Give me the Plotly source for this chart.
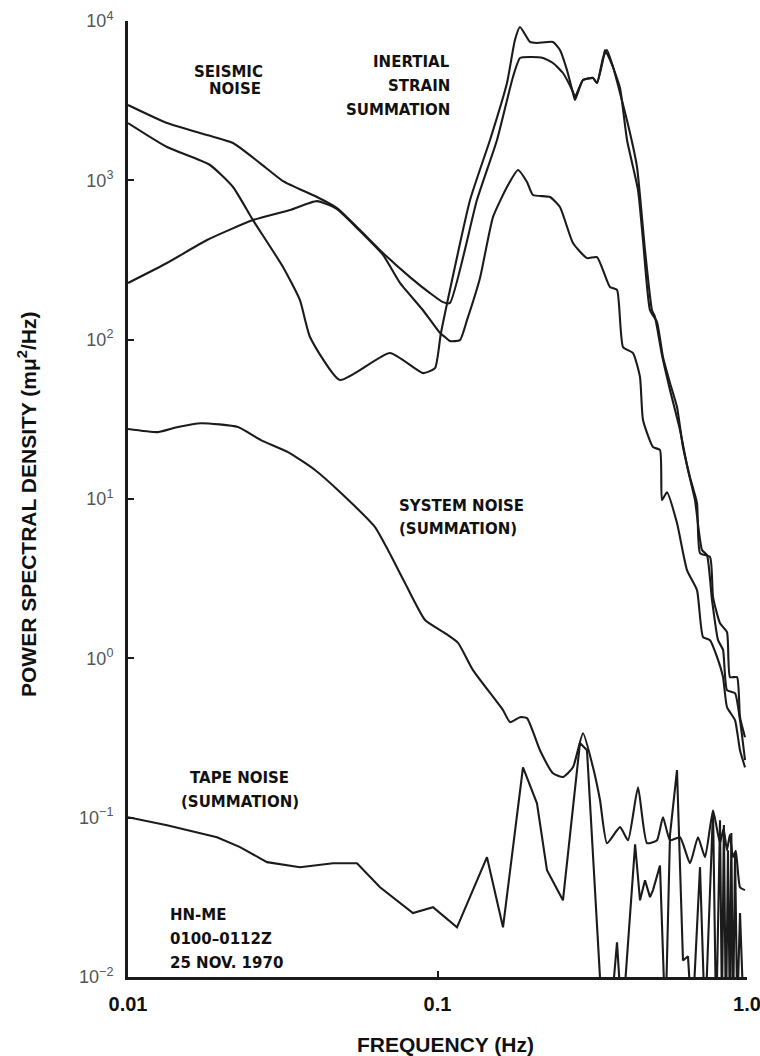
import plotly.graph_objects as go

# ---------------- data (frequency in Hz, PSD in mμ²/Hz) ----------------
# seismic noise curve starting near 3000 (upper at low frequency, plateau ~5500 at 0.2 Hz)
upper_f = [0.0100, 0.01337, 0.0180, 0.02184, 0.02669, 0.03168, 0.04079, 0.04735, 0.05618, 0.06667,
           0.08148, 0.09458, 0.1042, 0.1097, 0.1341, 0.1557, 0.1753, 0.1847, 0.1990, 0.2192,
           0.2361, 0.2543, 0.2740, 0.2781, 0.2952, 0.3180, 0.3276, 0.3425, 0.3529, 0.3690,
           0.3888, 0.4096, 0.4445, 0.4613, 0.4860, 0.5119, 0.5352, 0.5639, 0.5940, 0.6211,
           0.6543, 0.6893, 0.7049, 0.7595, 0.7767, 0.8181, 0.8617, 0.8813, 0.9284, 0.9493, 0.9852]
upper_p = [2970, 2289, 1924, 1715, 1284, 990, 786, 670, 488, 350,
           247, 196, 172, 170, 752, 1791, 4452, 5857, 5943, 5857,
           5449, 4717, 3584, 3333, 4262, 4388, 4082, 5857, 6577, 5143,
           3796, 1791, 869, 422, 153, 129, 77.8, 53.4, 37.8, 21.2,
           13.7, 9.43, 4.58, 4.32, 2.42, 1.66, 1.46, 0.762, 0.762, 0.427, 0.320]

# seismic noise curve starting near 2300 (dips to ~55, highest peak ~9000)
middle_f = [0.0100, 0.01337, 0.0184, 0.02184, 0.02534, 0.03168, 0.03594, 0.03873, 0.04842, 0.07023,
            0.08979, 0.09815, 0.1026, 0.1274, 0.1478, 0.1677, 0.1779, 0.1847, 0.1990, 0.2096,
            0.2361, 0.2487, 0.2620, 0.2740, 0.2781, 0.2952, 0.3180, 0.3276, 0.3425, 0.3477,
            0.3690, 0.3888, 0.4188, 0.4412, 0.4682, 0.4932, 0.5043, 0.5313, 0.5639, 0.6074,
            0.6446, 0.6791, 0.7155, 0.7427, 0.7709, 0.8061, 0.8366, 0.8617, 0.9146, 0.9493, 0.9852]
middle_p = [2289, 1618, 1248, 908, 563, 286, 177, 104, 55.8, 82.4,
            61.7, 66.3, 110, 752, 1791, 4082, 7600, 9170, 7385, 7278,
            7385, 6577, 4925, 3532, 3193, 4262, 4388, 4082, 5690, 6577,
            5143, 3532, 1981, 1212, 365, 153, 139, 80.0, 48.3, 27.1,
            15.2, 9.84, 4.78, 4.44, 2.32, 1.30, 1.13, 0.632, 0.605, 0.409, 0.230]

# seismic noise curve starting near 230 (peak ~1100 at 0.18 Hz)
lower_f = [0.0100, 0.01337, 0.0180, 0.02534, 0.03338, 0.04079, 0.04735, 0.05618, 0.06667, 0.07564,
           0.08979, 0.1019, 0.1057, 0.1097, 0.1182, 0.1246, 0.1372, 0.1511, 0.1677, 0.1820,
           0.1946, 0.2035, 0.2309, 0.2487, 0.2740, 0.3041, 0.3276, 0.3608, 0.3802, 0.3976,
           0.4283, 0.4511, 0.4613, 0.4969, 0.5234, 0.5313, 0.5514, 0.5940, 0.6398, 0.6893,
           0.7209, 0.7595, 0.8001, 0.8366, 0.8617, 0.9146, 0.9493, 0.9852]
lower_p = [227, 303, 422, 563, 651, 740, 660, 480, 340, 227,
           153, 110, 104, 98.0, 99.4, 133, 244, 588, 908, 1161,
           976, 809, 786, 680, 404, 325, 330, 214, 205, 89.8,
           82.4, 58.2, 31.3, 21.2, 20.3, 9.84, 11.0, 7.06, 3.58, 2.68,
           1.36, 1.30, 1.02, 0.762, 0.494, 0.409, 0.265, 0.207]

# system noise (summation)
system_f = [0.0100, 0.0125, 0.0145, 0.01722, 0.02266, 0.02689, 0.03289, 0.04019, 0.04878, 0.06282,
            0.06919, 0.07852, 0.09113, 0.1057, 0.1165, 0.1302, 0.1628, 0.1715, 0.1847, 0.1946,
            0.2143, 0.2361, 0.2543, 0.2740, 0.2952, 0.3180, 0.3350, 0.3529, 0.3888, 0.4127,
            0.4445, 0.4752, 0.5119, 0.5352, 0.5639, 0.6074, 0.6543, 0.6945, 0.7317, 0.7767,
            0.8181, 0.8400, 0.8617, 0.8800, 0.9012, 0.9200, 0.9493, 0.9852]
system_p = [27.5, 26.3, 28.3, 29.9, 28.3, 23.4, 19.7, 15.2, 10.9, 6.66,
            4.78, 2.97, 1.74, 1.44, 1.25, 0.843, 0.473, 0.398, 0.427, 0.421,
            0.265, 0.190, 0.180, 0.207, 0.339, 0.207, 0.129, 0.0692, 0.0872, 0.0722,
            0.155, 0.0692, 0.0722, 0.1007, 0.0722, 0.0754, 0.0518, 0.0754, 0.0565, 0.111,
            0.0692, 0.085, 0.0625, 0.078, 0.0565, 0.062, 0.0366, 0.0351]

# tape noise (summation)
tape_f = [0.0100, 0.01337, 0.01939, 0.02301, 0.02812, 0.03594, 0.04597, 0.05494, 0.0652, 0.08332,
          0.09672, 0.1156, 0.1445, 0.1628, 0.1889, 0.2096, 0.2258, 0.2543, 0.2886, 0.3041,
          0.3400, 0.3608, 0.3802, 0.3950, 0.4350, 0.4511, 0.4682, 0.4860, 0.4969, 0.5234,
          0.5450, 0.5639, 0.5940, 0.6211, 0.6446, 0.6650, 0.7049, 0.7317, 0.7767, 0.7950,
          0.8181, 0.8300, 0.8420, 0.8550, 0.8681, 0.8800, 0.8900, 0.9012, 0.9150, 0.9300,
          0.9493, 0.9780]
tape_p = [0.1007, 0.0897, 0.0754, 0.0653, 0.0526, 0.0489, 0.0518, 0.0518, 0.0366, 0.0252,
          0.0274, 0.0205, 0.0565, 0.0205, 0.207, 0.123, 0.0468, 0.0303, 0.294, 0.265,
          0.006, 0.005, 0.0165, 0.005, 0.068, 0.0303, 0.0405, 0.0317, 0.0351, 0.050,
          0.005, 0.078, 0.199, 0.0127, 0.0135, 0.005, 0.0489, 0.005, 0.111, 0.005,
          0.0964, 0.006, 0.090, 0.005, 0.0625, 0.006, 0.080, 0.005, 0.060, 0.006,
          0.0252, 0.005]

x_tick_vals = [0.01, 0.1, 1.0]
x_tick_text = ["0.01", "0.1", "1.0"]
y_tick_vals = [1e-2, 1e-1, 1e0, 1e1, 1e2, 1e3, 1e4]
y_tick_text = ["10<sup>\u22122</sup>", "10<sup>\u22121</sup>", "10<sup>0</sup>", "10<sup>1</sup>",
               "10<sup>2</sup>", "10<sup>3</sup>", "10<sup>4</sup>"]

# ---------------- figure ----------------
W, H = 760, 1056
ML, MR, MT, MB = 128, 13, 21, 79
PW, PH = W - ML - MR, H - MT - MB

INK = "#1b1b1b"
fig = go.Figure()
for fx, fy, shape in [(upper_f, upper_p, "spline"), (middle_f, middle_p, "spline"),
                      (lower_f, lower_p, "spline"), (system_f, system_p, "spline"),
                      (tape_f, tape_p, "linear")]:
    fig.add_trace(go.Scatter(x=fx, y=fy, mode="lines",
                             line=dict(color=INK, width=2.1, shape=shape,
                                       smoothing=0.5 if shape == "spline" else None),
                             hoverinfo="skip"))

axis_common = dict(type="log", showline=True, linecolor=INK, linewidth=3, showgrid=False,
                   zeroline=False, ticks="inside", ticklen=6, tickwidth=2, tickcolor=INK,
                   mirror=False, automargin=False, ticklabeloverflow="allow")
fig.update_xaxes(range=[-2, 0], tickvals=x_tick_vals, ticktext=x_tick_text,
                 tickfont=dict(family="Liberation Sans", size=20, color="#111", weight="bold"),
                 ticklabelstandoff=7, **axis_common)
fig.update_yaxes(range=[-2, 4], tickvals=y_tick_vals, ticktext=y_tick_text,
                 tickfont=dict(family="Liberation Sans", size=18, color="#555"),
                 ticklabelstandoff=8, **axis_common)


def px_to_paper(px, py):
    return (px - ML) / PW, 1 - (py - MT) / PH


LAB = dict(family="DejaVu Sans", size=15, color="#111", weight="bold")
labels = [
    ("SEISMIC", 265, 72, "right"), ("NOISE", 263, 89, "right"),
    ("INERTIAL", 452, 62, "right"), ("STRAIN", 452, 86, "right"), ("SUMMATION", 452, 110, "right"),
    ("SYSTEM NOISE", 397, 506, "left"), ("(SUMMATION)", 397, 529, "left"),
    ("TAPE NOISE", 239, 778, "center"), ("(SUMMATION)", 240, 802, "center"),
    ("HN-ME", 168, 915, "left"), ("0100\u20130112Z", 168, 939, "left"), ("25 NOV. 1970", 168, 963, "left"),
]
for text, lx, ly, anchor in labels:
    ax, ay = px_to_paper(lx, ly)
    fig.add_annotation(text=text, x=ax, y=ay, xref="paper", yref="paper", xanchor=anchor,
                       yanchor="middle", showarrow=False, font=LAB)

ax, ay = px_to_paper(445, 1044)
fig.add_annotation(text="FREQUENCY (Hz)", x=ax, y=ay, xref="paper", yref="paper",
                   xanchor="center", yanchor="middle", showarrow=False,
                   font=dict(family="Liberation Sans", size=21, color="#111", weight="bold"))
ax, ay = px_to_paper(27, 505)
fig.add_annotation(text="POWER SPECTRAL DENSITY (m\u03bc<sup>2</sup>/Hz)", x=ax, y=ay,
                   xref="paper", yref="paper", xanchor="center", yanchor="middle",
                   textangle=-90, showarrow=False,
                   font=dict(family="Liberation Sans", size=21, color="#111", weight="bold"))

fig.update_layout(width=W, height=H, margin=dict(l=ML, r=MR, t=MT, b=MB, pad=0),
                  paper_bgcolor="white", plot_bgcolor="white", showlegend=False)

fig.write_html("out.html")
